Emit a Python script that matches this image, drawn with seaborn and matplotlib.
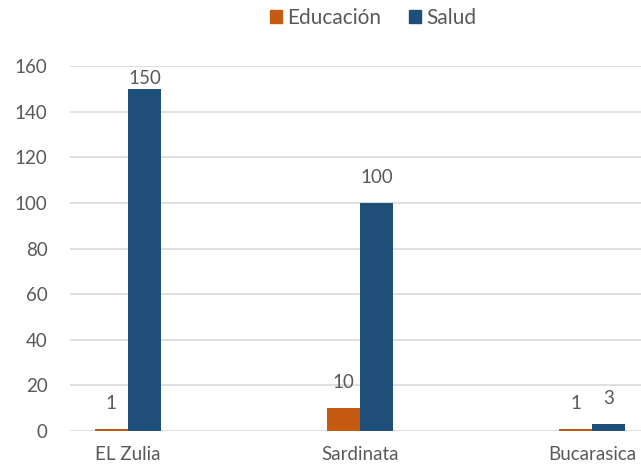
import pandas as pd
import matplotlib.pyplot as plt
import seaborn as sns

# data
municipios = ['EL Zulia', 'Sardinata', 'Bucarasica']
educacion = [1, 10, 1]
salud = [150, 100, 3]
series = ['Educación', 'Salud']

colores = {'Educación': '#C55A11', 'Salud': '#1F4E79'}
texto = '#595959'

df = pd.DataFrame({
    'Municipio': municipios * 2,
    'Sector': [series[0]] * len(municipios) + [series[1]] * len(municipios),
    'Valor': educacion + salud,
})

sns.set_style("white")
plt.rcParams['font.family'] = ['Lato', 'DejaVu Sans']

fig = plt.figure(figsize=(6.41, 4.72), dpi=100)
ax = fig.add_axes([0.109, 0.087, 0.891, 0.773])

sns.barplot(data=df, x='Municipio', y='Valor', hue='Sector', order=municipios,
            hue_order=series, palette=colores, width=0.285, saturation=1,
            linewidth=0, ax=ax, legend=False)

# data labels (Excel moved the top one down against the plot edge)
pads = [[12, 12, 12], [1, 12, 12]]
for cont, pad in zip(ax.containers, pads):
    for bar, p in zip(cont, pad):
        ax.annotate(f"{bar.get_height():.0f}",
                    (bar.get_x() + bar.get_width() / 2, bar.get_height()),
                    xytext=(0, p), textcoords='offset points',
                    ha='center', va='bottom', fontsize=13.5, color=texto)

ax.set_ylim(0, 160)
ax.set_xlim(-0.25, 2.211)
ax.set_yticks(range(0, 161, 20))
ax.yaxis.grid(True, color='#D9D9D9', linewidth=1.2)
ax.set_axisbelow(True)
for s in ax.spines.values():
    s.set_visible(False)
ax.set_xlabel('')
ax.set_ylabel('')
ax.tick_params(axis='y', length=0, pad=16, labelsize=13.5, labelcolor=texto)
ax.tick_params(axis='x', length=0, pad=11, labelsize=13.5, labelcolor=texto)

handles = [plt.Rectangle((0, 0), 1, 1, color=colores[s]) for s in series]
fig.legend(handles, series, loc='center', bbox_to_anchor=(0.582, 0.962), ncol=2,
           frameon=False, fontsize=15, labelcolor=texto, handlelength=0.6,
           handleheight=0.6, handletextpad=0.25, columnspacing=1.3)

fig.savefig('out.png', dpi=100)
